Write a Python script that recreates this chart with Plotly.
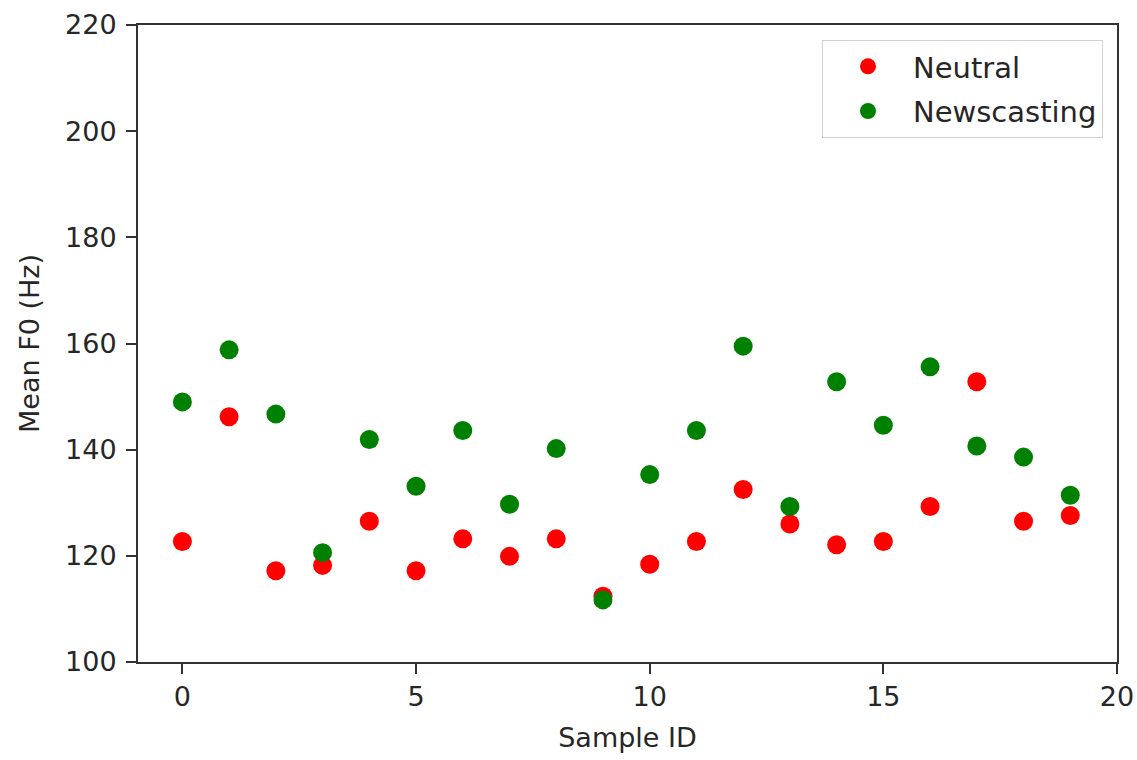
import plotly.graph_objects as go

sample_ids = list(range(20))
neutral = [122.7, 146.2, 117.2, 118.2, 126.5, 117.2, 123.2, 119.9, 123.2, 112.4,
           118.4, 122.7, 132.5, 126.0, 122.1, 122.7, 129.3, 152.8, 126.5, 127.6]
newscasting = [149.0, 158.8, 146.7, 120.6, 141.9, 133.1, 143.6, 129.7, 140.2, 111.7,
               135.3, 143.6, 159.5, 129.3, 152.8, 144.6, 155.6, 140.7, 138.6, 131.4]
x_ticks = [0, 5, 10, 15, 20]
y_ticks = [100, 120, 140, 160, 180, 200, 220]

font_family = "DejaVu Sans"
txt = "#262626"
fs = 27

fig = go.Figure()
fig.add_trace(go.Scatter(x=sample_ids, y=neutral, mode="markers", name="Neutral",
                         legendgroup="a",
                         marker=dict(color="#ff0000", size=19, line=dict(width=0))))
fig.add_trace(go.Scatter(x=sample_ids, y=newscasting, mode="markers", name="Newscasting",
                         legendgroup="b",
                         marker=dict(color="#008000", size=19, line=dict(width=0))))

axis_common = dict(showgrid=False, zeroline=False, showline=True, linecolor="#333333",
                   linewidth=2, mirror=True, ticks="outside", ticklen=10, tickwidth=2,
                   tickcolor="#333333", tickfont=dict(family=font_family, size=fs, color=txt),
                   automargin=False)

fig.update_xaxes(range=[-0.95, 20], tickvals=x_ticks, ticktext=[str(v) for v in x_ticks],
                 title=dict(text="Sample ID", font=dict(family=font_family, size=fs, color=txt),
                            standoff=17),
                 **axis_common)
fig.update_yaxes(range=[100, 220], tickvals=y_ticks, ticktext=[str(v) for v in y_ticks],
                 title=dict(text="Mean F0 (Hz)", font=dict(family=font_family, size=fs, color=txt),
                            standoff=18),
                 ticklabelstandoff=4,
                 **axis_common)

fig.update_layout(
    width=1137, height=760,
    margin=dict(l=138, r=20, t=25, b=98),
    plot_bgcolor="white", paper_bgcolor="white",
    font=dict(family=font_family, size=fs, color=txt),
    legend=dict(x=0.9857, y=0.9765, xanchor="right", yanchor="top",
                bgcolor="white", bordercolor="#d0d0d0", borderwidth=1,
                font=dict(family=font_family, size=29, color=txt),
                itemwidth=80, tracegroupgap=4),
)

fig.write_html(
    "out.html",
    config={"displayModeBar": False},
    post_script="document.body.style.margin='0';document.documentElement.style.overflow='hidden';",
)
